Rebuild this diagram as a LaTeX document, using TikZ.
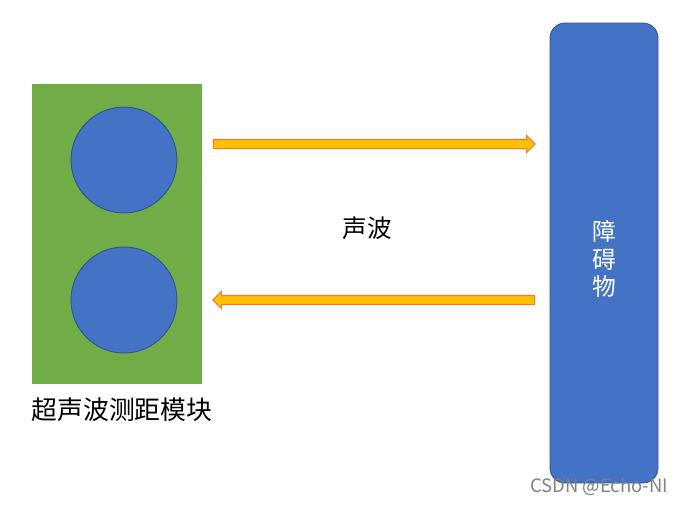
\documentclass[tikz,border=0pt]{standalone}
\usepackage{fontspec}
\newfontfamily\cjk{Noto Sans CJK SC}
\usetikzlibrary{shapes.arrows}
\definecolor{boardgreen}{HTML}{70AD47}
\definecolor{sensorblue}{HTML}{4472C4}
\definecolor{edgeblue}{HTML}{2F528F}
\definecolor{waveyellow}{HTML}{FFC000}
\definecolor{waveorange}{HTML}{ED7D31}

\begin{document}
\begin{tikzpicture}[x=0.02cm,y=-0.02cm,
  board/.style={draw=none,fill=boardgreen,minimum width=3.4cm,minimum height=6cm,inner sep=0pt},
  probe/.style={circle,draw=edgeblue,line width=0.5pt,fill=sensorblue,minimum size=2.12cm,inner sep=0pt},
  wave/.style={single arrow,draw=waveorange,line width=0.6pt,fill=waveyellow,minimum height=6.44cm,inner sep=0pt,inner ysep=0.08cm,single arrow head extend=0.08cm},
  caption/.style={font=\cjk\fontsize{14.7}{17}\selectfont}]
\useasboundingbox (0,0) rectangle (682,504);
% sensor module
\node[board] (module) at (117,234) {};
\node[probe] (tx) at (124,160) {};
\node[probe] (rx) at (124,300) {};
\node[caption] (modlabel) at (122,410) {超声波测距模块};
% obstacle
\node[draw=edgeblue,line width=0.5pt,fill=sensorblue,rounded corners=0.3cm,minimum width=2.16cm,minimum height=9.2cm,inner sep=0pt] (wall) at (604,253) {};
\node[font=\cjk\fontsize{13.5}{15.5}\selectfont,text=white,align=center] (walllabel) at (604,259) {障\\碍\\物};
% sound waves
\node[wave] (outgoing) at (372,144) {};
\node[wave,shape border rotate=180] (echo) at (376,300) {};
\node[caption,font=\cjk\fontsize{14}{16}\selectfont] (wavelabel) at (367,228) {声波};
\node[font=\cjk\fontsize{10.5}{12}\selectfont,text=black!50] (mark) at (599,487) {CSDN @Echo-NI};
\end{tikzpicture}
\end{document}
